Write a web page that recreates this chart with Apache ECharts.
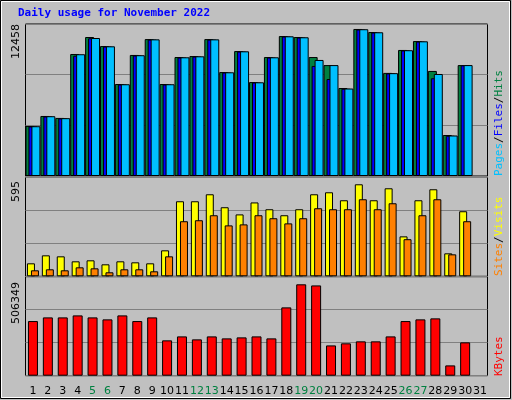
<!DOCTYPE html><html><head><meta charset="utf-8"><script src="https://cdn.jsdelivr.net/npm/echarts@6/dist/echarts.min.js"></script></head><body style="margin:0"><div id="c" style="width:512px;height:400px"></div><script>
const days=['1','2','3','4','5','6','7','8','9','10','11','12','13','14','15','16','17','18','19','20','21','22','23','24','25','26','27','28','29','30','31'];
const weekend=['5','6','12','13','19','20','26','27'];
const hitsMax=12458, visMax=595, kbMax=506349;
const hits=[4100,4920,4760,10000,11390,10650,7540,9920,11220,7540,9750,9830,11220,8520,10240,7700,9750,11470,11390,9750,9090,7210,12050,11800,8450,10330,11060,8610,3360,9090,null];
const files=[4080,4900,4740,9980,11310,10630,7520,9900,11200,7520,9730,9810,11200,8500,10220,7680,9730,11450,11370,9510,9090,7170,12030,11780,8430,10310,11040,8360,3320,9090,null];
const pages=[4060,4880,4720,9860,11290,10610,7500,9880,11180,7500,9710,9790,11180,8480,10200,7660,9710,11430,11350,9020,7950,7150,12010,11760,8410,10290,11020,8010,3300,9070,null];
const visits=[78,126,120,90,96,72,90,84,78,156,451,451,493,415,372,444,403,367,403,493,505,457,553,457,529,240,457,523,138,391,null];
const sites=[36,42,36,54,48,24,42,42,30,120,331,337,367,306,312,367,349,318,349,409,403,403,463,403,439,223,367,463,132,331,null];
const kbytes=[279500,298200,298200,308400,298200,288100,308400,279500,298200,180800,201000,185800,201000,190900,196000,201000,190900,349400,467400,461800,154900,165600,175700,175700,201000,279500,288100,293200,52700,170600,null];
const C=echarts.init(document.getElementById('c'));
const X0=25.5,X1=24.5;
function grid(top,h){return{left:X0,right:X1,top:top,height:h,show:true,backgroundColor:'#c0c0c0',borderColor:'#000',borderWidth:1};}
function xa(i,show){return{type:'category',gridIndex:i,data:days,axisLine:{show:false},axisTick:{show:false},axisLabel:{show:show,interval:0,margin:10,fontFamily:'DejaVu Sans',fontSize:11,formatter:v=>weekend.includes(v)?'{w|'+v+'}':'{n|'+v+'}',rich:{w:{color:'#008040',fontSize:11,fontFamily:'DejaVu Sans'},n:{color:'#000',fontSize:11,fontFamily:'DejaVu Sans'}}}};}
function ya(i,m){return{type:'value',gridIndex:i,min:0,max:m,interval:m/3,axisLabel:{show:false},axisLine:{show:false},axisTick:{show:false},splitLine:{lineStyle:{color:'#808080',width:1}}};}
const bs={borderColor:'#000',borderWidth:1};
function bar(name,d,xi,col,w,gap){return{type:'bar',name,data:d,xAxisIndex:xi,yAxisIndex:xi,barWidth:w,barGap:gap,itemStyle:Object.assign({color:col},bs),animation:false,silent:true};}
C.setOption({backgroundColor:'#c0c0c0',animation:false,
grid:[grid(24,152),grid(177.3,99),grid(276.7,99)],
xAxis:[xa(0,false),xa(1,false),xa(2,true)],
yAxis:[ya(0,hitsMax),ya(1,visMax),ya(2,kbMax)],
series:[bar('Hits',hits,0,'#008040',9,'-67%'),bar('Pages',pages,0,'#0000ff',9,'-67%'),bar('Files',files,0,'#00c0ff',9,'-67%'),
bar('Visits',visits,1,'#ffff00',8,'-50%'),bar('Sites',sites,1,'#ff8000',8,'-50%'),
bar('KBytes',kbytes,2,'#ff0000',10,'0%')],
graphic:[
{type:'rect',shape:{x:0.5,y:0.5,width:510,height:398},style:{fill:null,stroke:'#000',lineWidth:1}},
{type:'rect',shape:{x:1.5,y:1.5,width:508,height:396},style:{fill:null,stroke:'#fff',lineWidth:1}},
{type:'text',left:18,top:8,style:{text:'Daily usage for November 2022',font:'bold 11px "DejaVu Sans Mono"',fill:'#0000ff'}},
{type:'text',x:22,y:24,rotation:Math.PI/2,style:{text:String(hitsMax),font:'11px "DejaVu Sans"',fill:'#000',align:'right',verticalAlign:'bottom'}},
{type:'text',x:22,y:181,rotation:Math.PI/2,style:{text:String(visMax),font:'11px "DejaVu Sans"',fill:'#000',align:'right',verticalAlign:'bottom'}},
{type:'text',x:22,y:282,rotation:Math.PI/2,style:{text:String(kbMax),font:'11px "DejaVu Sans"',fill:'#000',align:'right',verticalAlign:'bottom'}},
{type:'text',x:499,y:176,rotation:Math.PI/2,style:{text:'{a|Pages}{k|/}{b|Files}{k|/}{c|Hits}',rich:{a:{fill:'#00c0ff',font:'11px "DejaVu Sans Mono"'},b:{fill:'#0000ff',font:'11px "DejaVu Sans Mono"'},c:{fill:'#008040',font:'11px "DejaVu Sans Mono"'},k:{fill:'#000',font:'11px "DejaVu Sans Mono"'}},align:'left',verticalAlign:'middle'}},
{type:'text',x:499,y:276,rotation:Math.PI/2,style:{text:'{d|Sites}{k|/}{e|Visits}',rich:{d:{fill:'#ff8000',font:'11px "DejaVu Sans Mono"'},e:{fill:'#ffff00',font:'11px "DejaVu Sans Mono"'},k:{fill:'#000',font:'11px "DejaVu Sans Mono"'}},align:'left',verticalAlign:'middle'}},
{type:'text',x:499,y:376,rotation:Math.PI/2,style:{text:'KBytes',font:'11px "DejaVu Sans Mono"',fill:'#ff0000',align:'left',verticalAlign:'middle'}}
]});
</script></body></html>
